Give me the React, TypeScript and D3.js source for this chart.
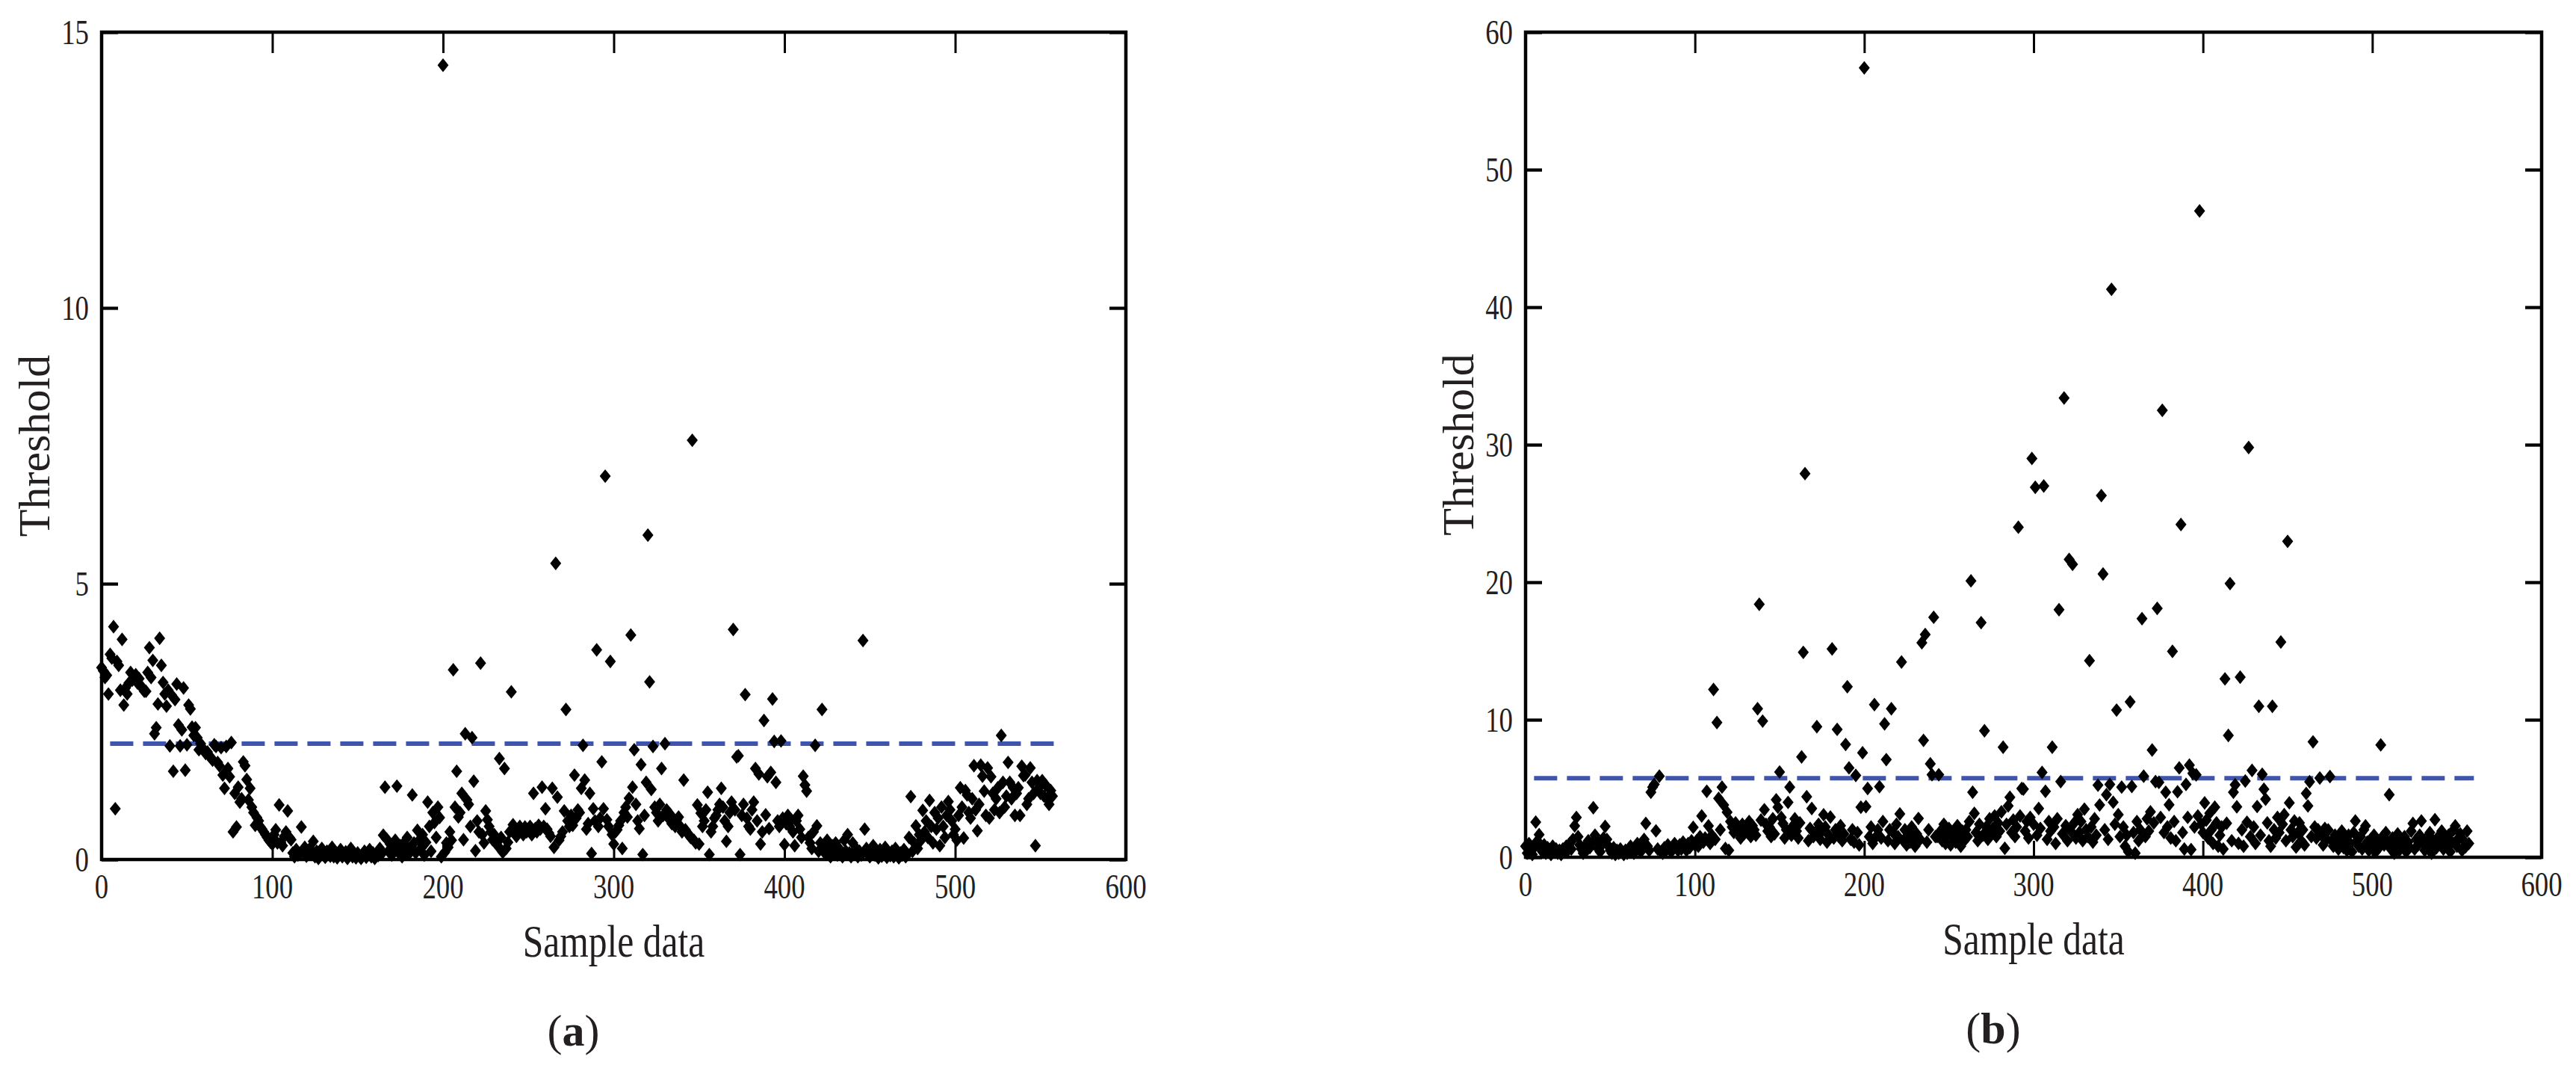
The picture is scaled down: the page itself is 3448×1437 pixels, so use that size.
import { useEffect, useRef } from 'react';
import * as d3 from 'd3';

// sample index runs 0..557 in both panels
const sampleTicks = [0, 100, 200, 300, 400, 500, 600];
const thresholdTicksA = [0, 5, 10, 15];
const thresholdTicksB = [0, 10, 20, 30, 40, 50, 60];
const limitA = 2.1;
const limitB = 5.75;
const limitSpan = [5, 560];

const thresholdA = [
  3.48, 3.42, 3.3, 3.34, 3.0, 3.72, 3.65, 4.22, 0.92, 3.59,
  3.52, 3.07, 3.99, 2.8, 3.11, 3.0, 3.2, 3.39, 3.25, 3.3,
  3.35, 3.2, 3.28, 3.15, 3.1, 3.05, 3.05, 3.39, 3.84, 3.3,
  3.61, 2.28, 2.39, 2.82, 4.01, 3.52, 3.21, 3.0, 2.78, 3.07,
  2.06, 2.98, 1.6, 2.9, 3.18, 2.44, 2.06, 2.35, 3.11, 1.62,
  2.08, 2.8, 2.73, 2.4, 2.25, 2.39, 2.21, 1.99, 2.1, 2.03,
  1.98, 1.92, 1.95, 1.88, 1.85, 1.8, 2.08, 2.05, 1.76, 1.7,
  2.03, 1.53, 1.29, 2.05, 1.65, 1.5, 2.12, 0.5, 1.2, 0.59,
  1.31, 1.04, 1.1, 1.77, 1.7, 1.45, 1.08, 1.29, 0.95, 0.85,
  0.62, 0.76, 0.7, 0.59, 0.55, 0.5, 0.45, 0.4, 0.35, 0.31,
  0.28, 0.45, 0.54, 0.3, 0.99, 0.31, 0.25, 0.42, 0.5, 0.88,
  0.4, 0.36, 0.12, 0.05, 0.18, 0.08, 0.1, 0.59, 0.15, 0.22,
  0.06, 0.12, 0.2, 0.1, 0.33, 0.05, 0.15, 0.02, 0.12, 0.2,
  0.08, 0.04, 0.15, 0.1, 0.06, 0.22, 0.05, 0.12, 0.03, 0.08,
  0.18, 0.05, 0.1, 0.14, 0.02, 0.07, 0.2, 0.05, 0.1, 0.03,
  0.12, 0.06, 0.02, 0.09, 0.15, 0.04, 0.08, 0.18, 0.05, 0.12,
  0.02, 0.1, 0.07, 0.2, 0.1, 0.44, 1.31, 0.37, 0.15, 0.28,
  0.08, 0.2, 0.35, 1.33, 0.12, 0.25, 0.05, 0.3, 0.18, 0.4,
  0.1, 0.22, 1.17, 0.3, 0.12, 0.53, 0.35, 0.2, 0.45, 0.08,
  0.31, 1.04, 0.6, 0.15, 0.85, 0.67, 0.4, 0.95, 0.76, 0.05,
  14.4, 0.13, 0.3, 0.22, 0.5, 0.35, 3.44, 0.95, 1.6, 0.77,
  0.85, 1.2, 0.36, 2.28, 1.08, 1.0, 0.6, 2.21, 1.42, 0.16,
  0.7, 0.5, 3.56, 0.45, 0.3, 0.88, 0.72, 0.6, 0.5, 0.36,
  0.45, 0.3, 0.25, 1.83, 0.4, 0.13, 1.65, 0.2, 0.31, 0.5,
  3.04, 0.63, 0.55, 0.42, 0.5, 0.6, 0.55, 0.45, 0.59, 0.5,
  0.55, 0.6, 0.45, 1.2, 0.56, 0.5, 0.62, 0.55, 1.31, 0.6,
  0.92, 0.55, 0.48, 0.42, 1.29, 0.22, 5.37, 1.13, 0.35, 0.42,
  0.5, 0.88, 2.72, 0.7, 0.6, 0.8, 0.62, 1.53, 0.75, 0.9,
  0.85, 1.29, 2.07, 1.44, 0.55, 0.65, 1.2, 0.11, 0.92, 0.7,
  3.8, 0.6, 0.75, 1.77, 0.92, 6.95, 0.72, 0.6, 3.59, 0.45,
  0.28, 0.5, 0.54, 0.62, 0.7, 0.2, 0.85, 0.95, 0.77, 1.11,
  4.07, 1.31, 1.99, 1.0, 0.7, 0.56, 1.72, 0.09, 0.8, 1.4,
  5.88, 3.22, 1.27, 2.05, 0.95, 0.85, 0.7, 1.0, 1.65, 0.8,
  2.1, 0.9, 0.75, 0.82, 0.65, 0.7, 0.6, 0.72, 0.77, 0.6,
  0.5, 1.44, 0.54, 0.48, 0.45, 0.4, 7.6, 0.35, 0.3, 0.99,
  0.28, 0.84, 0.6, 0.7, 0.9, 1.22, 0.09, 0.5, 0.6, 0.75,
  0.8, 0.9, 1.0, 1.29, 0.95, 0.7, 0.33, 0.6, 0.85, 1.04,
  4.17, 0.9, 1.86, 1.88, 0.09, 0.8, 1.0, 2.99, 0.75, 0.6,
  0.55, 0.9, 1.04, 1.65, 0.7, 1.55, 0.28, 0.5, 2.52, 0.81,
  1.5, 0.56, 1.58, 2.91, 2.14, 1.4, 0.7, 0.6, 2.15, 0.75,
  0.27, 0.65, 0.8, 0.6, 0.72, 0.5, 0.25, 0.7, 0.8, 0.55,
  0.4, 1.51, 1.35, 1.24, 0.4, 0.3, 0.2, 0.5, 2.07, 0.61,
  0.15, 0.3, 2.72, 0.2, 0.1, 0.35, 0.15, 0.05, 0.25, 0.12,
  0.3, 0.08, 0.2, 0.1, 0.05, 0.35, 0.15, 0.45, 0.12, 0.05,
  0.3, 0.1, 0.2, 0.05, 0.15, 0.08, 3.97, 0.55, 0.2, 0.1,
  0.05, 0.15, 0.25, 0.08, 0.12, 0.03, 0.18, 0.06, 0.1, 0.22,
  0.04, 0.12, 0.07, 0.15, 0.05, 0.2, 0.1, 0.03, 0.12, 0.08,
  0.18, 0.05, 0.1, 0.4, 1.14, 0.15, 0.3, 0.61, 0.2, 0.45,
  0.35, 0.89, 0.5, 0.7, 0.4, 1.07, 0.6, 0.3, 0.85, 0.55,
  0.75, 0.25, 0.95, 0.6, 0.4, 0.8, 1.05, 0.9, 0.7, 0.45,
  0.55, 0.35, 0.8, 1.3, 0.95, 0.39, 1.25, 1.17, 0.85, 0.75,
  1.1, 1.7, 0.9, 0.52, 1.0, 1.71, 1.51, 1.24, 0.8, 1.66,
  0.75, 1.5, 1.2, 0.9, 1.1, 1.3, 0.85, 2.25, 1.4, 0.95,
  1.15, 1.76, 1.4, 1.1, 1.3, 0.8, 1.2, 1.3, 0.8, 1.69,
  1.52, 1.53, 1.0, 1.1, 1.66, 1.4, 1.2, 0.25, 1.43, 1.3,
  1.2, 1.43, 1.15, 1.35, 1.1, 1.0, 1.25, 1.15,
];

const thresholdB = [
  0.8, 0.3, 1.0, 0.5, 0.2, 0.7, 2.56, 1.2, 1.65, 0.6,
  0.4, 0.9, 0.3, 0.7, 0.5, 0.2, 0.8, 0.4, 0.6, 0.3,
  0.5, 0.2, 0.6, 0.4, 0.8, 0.5, 1.0, 0.6, 1.3, 2.28,
  2.9, 1.5, 0.9, 0.6, 0.3, 0.8, 0.5, 1.2, 0.7, 1.0,
  3.6, 1.6, 1.1, 0.6, 0.4, 0.9, 1.4, 2.24, 1.3, 0.8,
  0.5, 0.3, 0.7, 0.2, 0.5, 0.3, 0.6, 0.4, 0.2, 0.5,
  0.3, 0.6, 0.8, 0.5, 0.3, 0.7, 1.0, 0.6, 0.4, 0.9,
  1.3, 2.46, 0.8, 0.5, 4.73, 5.1, 5.3, 1.92, 0.6, 5.9,
  0.4, 0.3, 0.7, 0.5, 0.9, 0.6, 0.4, 0.8, 1.0, 0.7,
  0.5, 0.9, 0.6, 1.1, 0.8, 0.5, 1.0, 0.7, 1.2, 2.18,
  0.9, 1.2, 0.8, 1.5, 3.0, 1.1, 1.4, 4.8, 2.28, 1.0,
  1.6, 12.2, 1.3, 9.8, 4.28, 2.0, 5.1, 3.8, 0.64, 3.28,
  0.5, 2.6, 2.2, 1.8, 2.5, 1.9, 2.1, 1.4, 2.4, 1.7,
  2.2, 1.8, 2.6, 1.5, 2.3, 2.0, 1.6, 10.8, 18.4, 2.7,
  9.9, 3.46, 2.4, 1.9, 2.2, 1.5, 2.8, 1.7, 4.18, 3.64,
  6.2, 2.9, 2.46, 1.4, 2.0, 3.99, 5.1, 1.6, 2.3, 2.8,
  1.9, 1.4, 2.5, 7.3, 14.9, 27.9, 4.4, 1.2, 2.1, 3.55,
  1.5, 1.8, 9.5, 2.4, 1.3, 1.9, 3.09, 2.2, 1.1, 1.6,
  2.92, 15.15, 1.4, 2.0, 9.3, 1.5, 2.3, 1.2, 1.7, 8.2,
  12.4, 6.5, 1.3, 2.0, 1.1, 5.95, 1.8, 0.9, 3.64, 7.6,
  57.4, 3.68, 5.0, 1.5, 2.2, 1.0, 11.1, 1.5, 2.0, 5.13,
  1.4, 2.6, 9.7, 7.1, 1.2, 2.0, 10.8, 1.8, 1.0, 2.4,
  1.5, 3.15, 14.2, 1.2, 2.0, 0.9, 1.6, 1.1, 2.2, 1.4,
  0.8, 1.7, 2.82, 1.3, 15.6, 8.5, 16.2, 1.1, 2.0, 6.8,
  6.0, 17.45, 1.5, 1.5, 6.0, 1.9, 1.2, 2.4, 1.0, 1.6,
  2.1, 0.9, 1.4, 1.8, 1.1, 2.3, 1.5, 0.8, 1.9, 1.2,
  2.0, 1.5, 2.6, 20.1, 4.73, 3.19, 1.8, 1.2, 2.4, 17.06,
  1.6, 9.2, 2.2, 1.3, 2.8, 1.7, 2.1, 3.0, 1.5, 2.5,
  1.9, 3.3, 8.0, 0.65, 2.4, 3.73, 4.36, 1.8, 2.7, 1.5,
  2.2, 24.0, 3.0, 5.0, 4.96, 1.9, 2.6, 1.4, 2.9, 29.0,
  2.4, 26.9, 1.6, 3.55, 2.1, 6.17, 27.0, 4.8, 1.3, 2.6,
  1.9, 8.0, 2.2, 1.0, 2.8, 18.0, 5.5, 1.7, 33.4, 2.3,
  1.2, 21.66, 1.9, 21.3, 2.5, 1.4, 3.1, 1.8, 2.6, 1.2,
  3.5, 2.0, 1.5, 14.3, 2.2, 1.1, 2.8, 1.6, 5.24, 3.8,
  26.3, 20.6, 2.0, 4.55, 1.3, 5.3, 41.3, 4.0, 2.4, 10.7,
  3.1, 1.5, 5.1, 2.2, 0.8, 1.6, 0.4, 11.3, 5.15, 1.8,
  0.3, 2.6, 1.2, 2.0, 17.35, 5.9, 1.5, 2.8, 1.9, 3.3,
  7.8, 2.5, 5.5, 18.1, 5.45, 2.9, 32.5, 1.8, 4.73, 2.2,
  3.82, 1.4, 14.97, 2.6, 1.2, 4.76, 6.5, 24.2, 1.8, 0.6,
  5.3, 2.9, 6.7, 0.56, 6.1, 2.2, 5.99, 3.0, 47.0, 2.4,
  1.8, 3.95, 2.7, 1.4, 3.2, 2.0, 1.0, 3.64, 2.5, 0.8,
  1.6, 2.2, 0.6, 12.97, 2.47, 8.86, 19.9, 1.2, 4.73, 5.27,
  3.67, 1.01, 13.1, 2.0, 0.8, 5.54, 2.55, 29.8, 1.5, 6.32,
  2.2, 1.0, 3.69, 10.98, 1.6, 6.03, 4.95, 4.22, 2.5, 1.2,
  0.8, 10.98, 2.0, 1.4, 2.9, 1.8, 15.65, 2.4, 3.1, 1.2,
  22.97, 3.96, 2.0, 1.5, 2.64, 0.74, 1.8, 2.5, 1.2, 2.0,
  0.9, 4.64, 3.73, 5.49, 1.5, 8.39, 2.2, 1.4, 2.0, 5.76,
  1.6, 0.9, 2.1, 1.3, 1.99, 5.87, 1.2, 0.8, 1.6, 1.0,
  0.6, 1.4, 1.9, 0.7, 1.2, 0.5, 1.6, 1.0, 0.4, 1.8,
  2.64, 1.2, 0.8, 1.5, 0.6, 2.0, 2.28, 1.1, 0.5, 1.3,
  0.9, 1.6, 0.4, 1.2, 0.7, 8.17, 1.5, 0.9, 1.8, 1.1,
  4.55, 0.6, 1.4, 0.3, 1.0, 1.7, 0.5, 1.2, 0.8, 1.5,
  0.4, 1.1, 0.7, 1.9, 2.46, 0.6, 1.3, 0.9, 1.6, 2.64,
  1.0, 0.5, 1.4, 0.8, 1.8, 0.3, 1.2, 2.73, 0.7, 1.5,
  1.0, 1.9, 0.6, 1.3, 0.9, 1.6, 0.4, 1.1, 2.0, 2.28,
  0.8, 1.4, 1.7, 0.5, 1.2, 0.74, 1.9, 1.0,
];

const FONT = '"Liberation Serif", "Times New Roman", serif';
const INK = '#231f20';
const DASH_BLUE = '#3f55ad';
const SQUEEZE = 0.8; // the figure's lettering is horizontally condensed

const diamond = 'M0,-9.2L7.4,0L0,9.2L-7.4,0Z';

const drawPanel = (svg, p) => {
  const x = d3.scaleLinear().domain([0, 600]).range([p.left, p.right]);
  const y = d3.scaleLinear().domain([0, p.yMax]).range([p.bottom, p.top]);
  const g = svg.append('g');

  // tick marks on all four sides, pointing inwards
  const styleTicks = (sel, w) => {
    sel.select('.domain').remove();
    sel.selectAll('text').remove();
    sel.selectAll('line').attr('stroke', '#000').attr('stroke-width', w);
  };
  g.append('g').attr('transform', `translate(0,${p.bottom})`)
    .call(d3.axisBottom(x).tickValues(sampleTicks).tickSize(-22))
    .call(s => styleTicks(s, 3));
  g.append('g').attr('transform', `translate(0,${p.top})`)
    .call(d3.axisTop(x).tickValues(sampleTicks).tickSize(-28))
    .call(s => styleTicks(s, 3));
  g.append('g').attr('transform', `translate(${p.left},0)`)
    .call(d3.axisLeft(y).tickValues(p.yTicks).tickSize(-22))
    .call(s => styleTicks(s, 4.3));
  g.append('g').attr('transform', `translate(${p.right},0)`)
    .call(d3.axisRight(y).tickValues(p.yTicks).tickSize(-22))
    .call(s => styleTicks(s, 4.3));

  // box
  g.append('rect')
    .attr('x', p.left).attr('y', p.top)
    .attr('width', p.right - p.left).attr('height', p.bottom - p.top)
    .attr('fill', 'none').attr('stroke', '#000').attr('stroke-width', 4.5);

  // tick labels
  g.selectAll('text.xt').data(sampleTicks).join('text')
    .attr('class', 'xt')
    .attr('transform', d => `translate(${x(d)},${p.bottom + 52}) scale(${SQUEEZE},1)`)
    .attr('text-anchor', 'middle')
    .style('font-family', FONT).style('font-size', '46px').style('fill', INK)
    .text(d => d);
  g.selectAll('text.yt').data(p.yTicks).join('text')
    .attr('class', 'yt')
    .attr('transform', d => `translate(${p.left - 17},${y(d)}) scale(${SQUEEZE},1)`)
    .attr('text-anchor', 'end').attr('dy', '0.34em')
    .style('font-family', FONT).style('font-size', '46px').style('fill', INK)
    .text(d => d);

  // axis titles
  g.append('text')
    .attr('transform', `translate(${(p.left + p.right) / 2},${p.bottom + 130}) scale(${SQUEEZE},1)`)
    .attr('text-anchor', 'middle')
    .style('font-family', FONT).style('font-size', '62px').style('fill', INK)
    .text('Sample data');
  g.append('text')
    .attr('transform', `translate(${p.left - 70},${(p.top + p.bottom) / 2}) rotate(-90)`)
    .attr('text-anchor', 'middle')
    .style('font-family', FONT).style('font-size', '60px').style('fill', INK)
    .text('Threshold');

  // threshold line
  g.append('line')
    .attr('x1', x(limitSpan[0])).attr('x2', x(limitSpan[1]))
    .attr('y1', y(p.limit)).attr('y2', y(p.limit))
    .attr('stroke', DASH_BLUE).attr('stroke-width', 6)
    .attr('stroke-dasharray', '31 13');

  // samples
  g.append('g').selectAll('path').data(p.values).join('path')
    .attr('d', diamond)
    .attr('transform', (d, i) => `translate(${x(i)},${y(d)})`)
    .attr('fill', '#000');

  // panel caption
  const cap = g.append('text')
    .attr('x', (p.left + p.right) / 2 - 54).attr('y', p.bottom + 249)
    .attr('text-anchor', 'middle')
    .style('font-family', FONT).style('font-size', '60px').style('fill', INK);
  cap.append('tspan').text('(');
  cap.append('tspan').style('font-weight', 'bold').text(p.tag);
  cap.append('tspan').text(')');
};

const App = () => {
  const svgRef = useRef(null);

  useEffect(() => {
    const svg = d3.select(svgRef.current);
    svg.selectAll('*').remove();
    svg.append('rect').attr('width', 3448).attr('height', 1437).attr('fill', '#fff');

    drawPanel(svg, {
      left: 136, right: 1507, top: 43, bottom: 1150,
      yMax: 15, yTicks: thresholdTicksA, limit: limitA,
      values: thresholdA, tag: 'a',
    });
    drawPanel(svg, {
      left: 2042, right: 3402, top: 43, bottom: 1147,
      yMax: 60, yTicks: thresholdTicksB, limit: limitB,
      values: thresholdB, tag: 'b',
    });
  }, []);

  return (
    <svg
      ref={svgRef}
      width={3448}
      height={1437}
      style={{ position: 'absolute', left: 0, top: 0, display: 'block' }}
    />
  );
};

export default App;
